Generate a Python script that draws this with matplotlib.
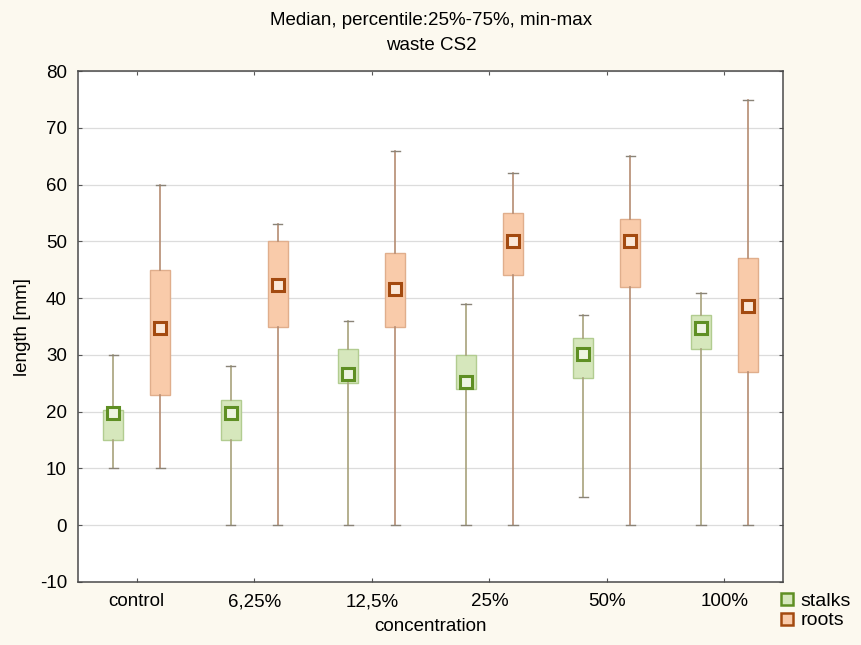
import matplotlib.pyplot as plt
from matplotlib.lines import Line2D

plt.rcParams['font.family'] = ['Liberation Sans', 'DejaVu Sans']
plt.rcParams['axes.unicode_minus'] = False

categories = ['control', '6,25%', '12,5%', '25%', '50%', '100%']

# stalks: min, q1, median, q3, max
stalks_min = [10, 0, 0, 0, 5, 0]
stalks_q1 = [15, 15, 25, 24, 26, 31]
stalks_med = [19.7, 19.7, 26.7, 25.3, 30.2, 34.7]
stalks_q3 = [20.3, 22, 31, 30, 33, 37]
stalks_max = [30, 28, 36, 39, 37, 41]

# roots
roots_min = [10, 0, 0, 0, 0, 0]
roots_q1 = [23, 35, 35, 44, 42, 27]
roots_med = [34.7, 42.3, 41.6, 50.1, 50.1, 38.7]
roots_q3 = [45, 50, 48, 55, 54, 47]
roots_max = [60, 53, 66, 62, 65, 75]


def make_stats(mins, q1s, meds, q3s, maxs):
    return [dict(whislo=a, q1=b, med=c, q3=d, whishi=e, fliers=[])
            for a, b, c, d, e in zip(mins, q1s, meds, q3s, maxs)]


fig = plt.figure(figsize=(8.62, 6.45), dpi=100, facecolor='#fcf9ef')
ax = fig.add_axes([0.0905, 0.0977, 0.818, 0.792])
ax.set_facecolor('white')

pos = range(1, len(categories) + 1)
groups = [
    ('stalks', make_stats(stalks_min, stalks_q1, stalks_med, stalks_q3, stalks_max),
     -0.2, '#d6e7bc', '#b2cc90', '#a8a27c', '#5f8f24', '#eef4e2'),
    ('roots', make_stats(roots_min, roots_q1, roots_med, roots_q3, roots_max),
     0.2, '#f9cbaa', '#e0ae8c', '#b58c72', '#a34a10', '#fbe8d8'),
]

handles = []
for name, stats, off, fill, edge, wcol, mcol, mface in groups:
    ax.bxp(stats, positions=[p + off for p in pos], widths=0.17,
           patch_artist=True, showfliers=False, capwidths=0.08,
           boxprops=dict(facecolor=fill, edgecolor=edge, linewidth=1),
           whiskerprops=dict(color=wcol, linewidth=1.2),
           capprops=dict(color='#8a8478', linewidth=1),
           medianprops=dict(linewidth=0), zorder=3)
    meds = [s['med'] for s in stats]
    ax.plot([p + off for p in pos], meds, linestyle='none', marker='s',
            markersize=8, markerfacecolor=mface, markeredgecolor=mcol,
            markeredgewidth=2.2, zorder=5)
    handles.append(Line2D([], [], linestyle='none', marker='s', markersize=9,
                          markerfacecolor=fill, markeredgecolor=mcol,
                          markeredgewidth=1.8, label=name))

ax.set_xlim(0.5, 6.5)
ax.set_ylim(-10, 80)
ax.set_xticks(list(pos))
ax.set_xticklabels(categories)
ax.set_yticks(range(-10, 81, 10))
ax.yaxis.grid(True, color='#dcdcdc', linewidth=0.9)
ax.set_axisbelow(True)
ax.tick_params(direction='in', top=True, right=True, length=3, width=0.8,
               color='#555555', labelsize=13.5, pad=8)
for s in ax.spines.values():
    s.set_color('#4a4a4a')
    s.set_linewidth(1.1)

ax.set_xlabel('concentration', fontsize=13.5, labelpad=6)
ax.set_ylabel('length [mm]', fontsize=13.5, labelpad=6)
fig.text(0.5, 0.968, 'Median, percentile:25%-75%, min-max', ha='center',
         va='center', fontsize=13.5)
fig.text(0.5, 0.93, 'waste CS2', ha='center', va='center', fontsize=13.5)

fig.legend(handles=handles, loc='lower right', bbox_to_anchor=(1.005, 0.0),
           frameon=False, fontsize=14, handlelength=0.8, handletextpad=0.3,
           labelspacing=0.1, borderpad=0.3)

fig.savefig('out.png', dpi=100, facecolor=fig.get_facecolor())
